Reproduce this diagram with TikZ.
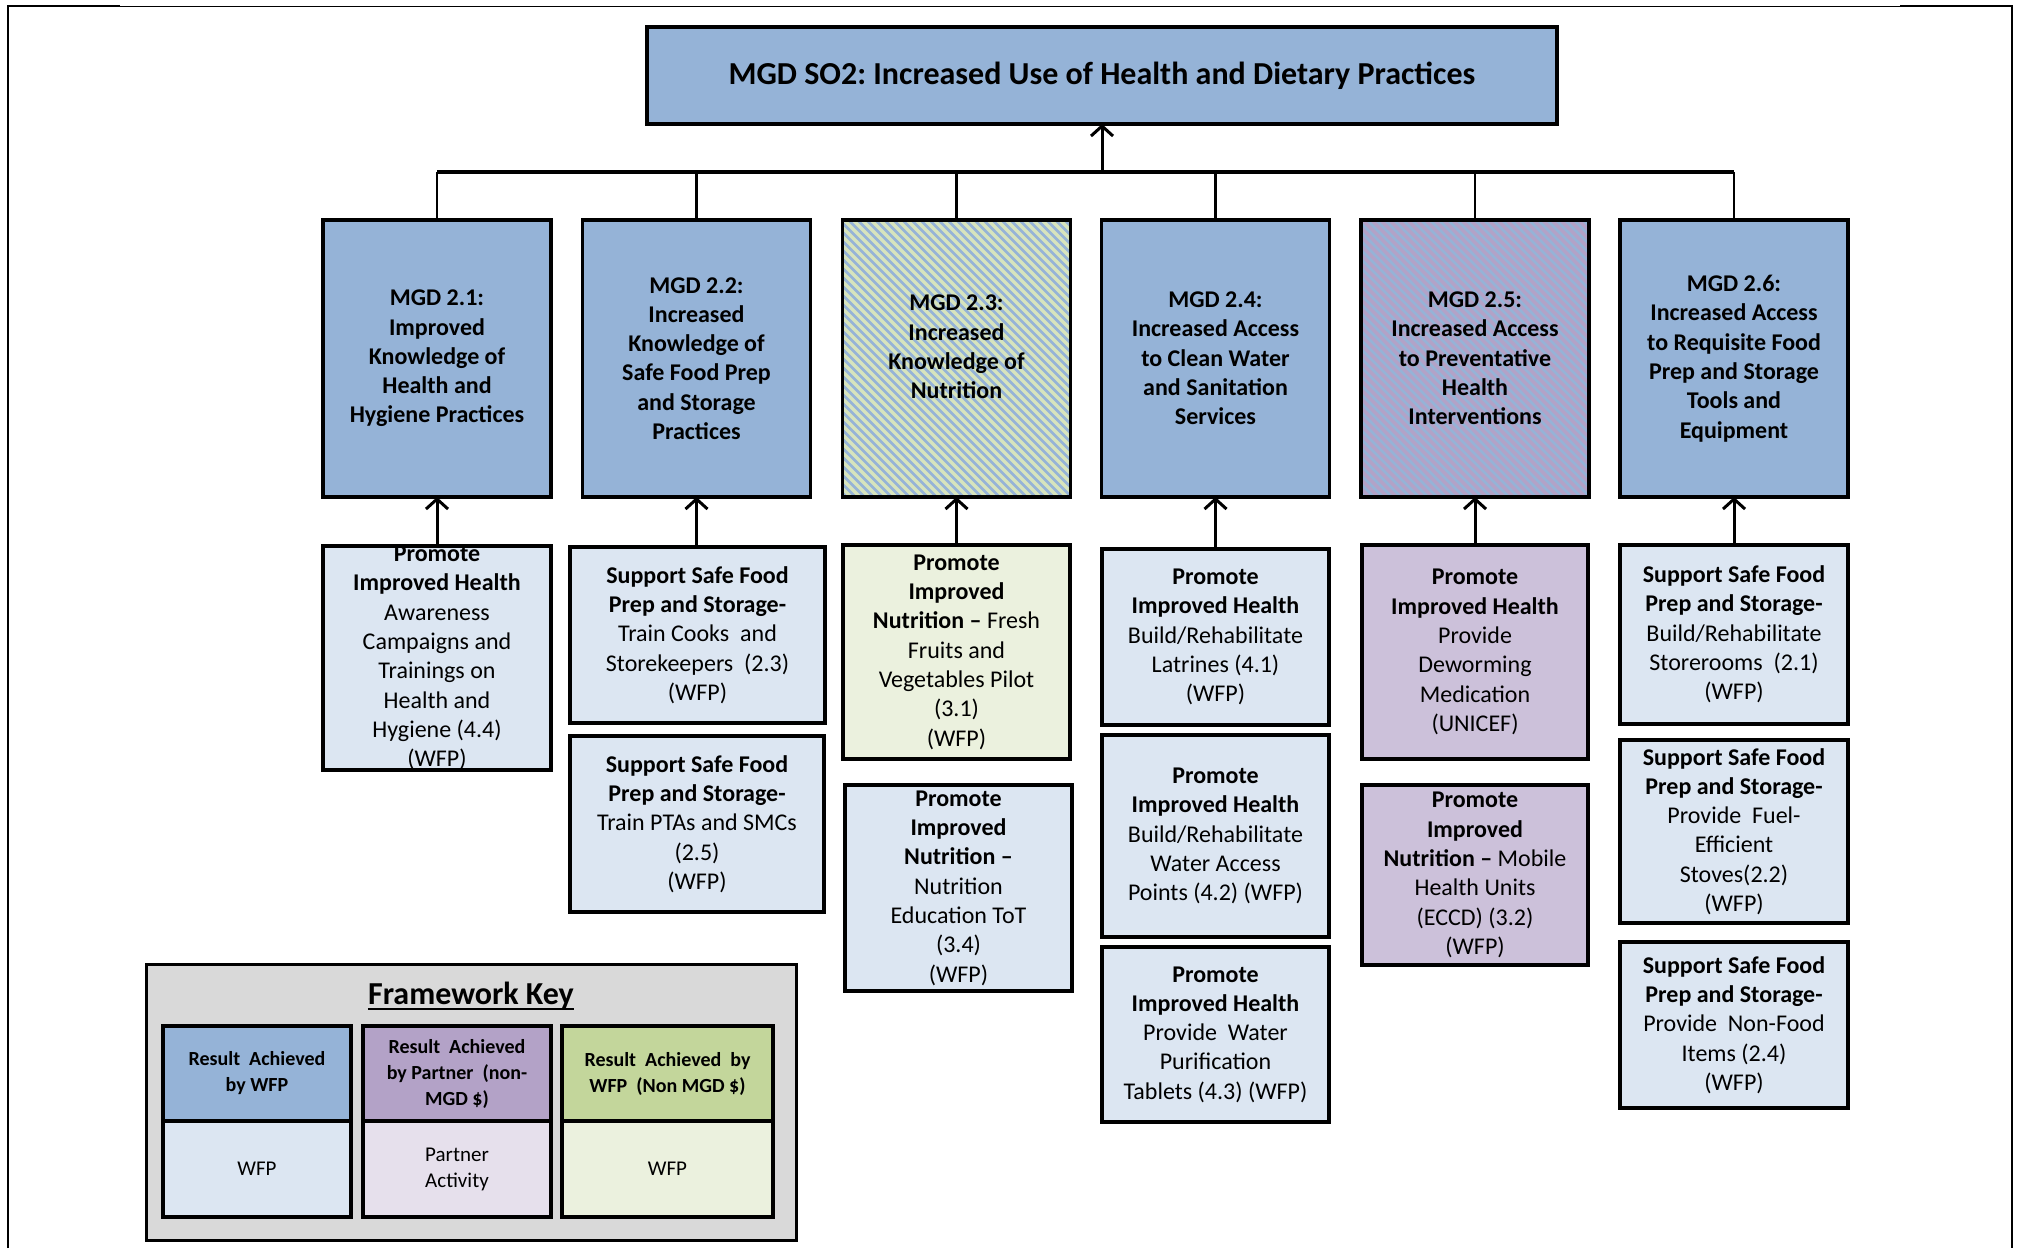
\documentclass[tikz,border=0pt]{standalone}
\usepackage{fontspec}
\setmainfont{Carlito}
\usetikzlibrary{arrows.meta}

\definecolor{resblue}{HTML}{95B3D7}
\definecolor{actblue}{HTML}{DCE6F2}
\definecolor{respurple}{HTML}{B3A2C7}
\definecolor{actpurple}{HTML}{CCC1DA}
\definecolor{keypurple}{HTML}{E6E0EC}
\definecolor{resgreen}{HTML}{C3D69B}
\definecolor{actgreen}{HTML}{EBF1DE}
\definecolor{hatchgreen}{HTML}{D7E4BD}
\definecolor{keygray}{HTML}{D9D9D9}

\tikzset{
  box/.style={draw=black, line width=3.5pt, rectangle, inner sep=0pt, outer sep=0pt},
  sz/.style 2 args={minimum width=#1pt, minimum height=#2pt},
  txt/.style={align=center, inner sep=0pt, font=\fontsize{24}{29.3}\selectfont},
  keyhead/.style={align=center, inner sep=0pt, font=\fontsize{20}{26}\selectfont\bfseries},
  keybody/.style={align=center, inner sep=0pt, font=\fontsize{21}{26}\selectfont},
  link/.style={line width=2.4pt},
  busline/.style={line width=3.2pt},
  uparrow/.style={line width=3pt, -{Straight Barb[length=10pt,width=22pt]}},
  stripe/.style={resblue, line width=2.6pt},
}

\begin{document}
\frenchspacing
\begin{tikzpicture}[x=1pt, y=-1pt]
\useasboundingbox (0,0) rectangle (2018,1248);
\fill[white] (0,0) rectangle (2018,1248);

% page frame
\draw[line width=2.2pt] (8,1248) -- (8,6) -- (120,6);
\draw[line width=1pt] (120,6) -- (1900,6);
\draw[line width=2.2pt] (1900,6) -- (2012,6) -- (2012,1248);

% strategic objective
\node[box, fill=resblue, sz={910}{97}] (so2) at (1102,75.5) {};
\node[inner sep=0pt, font=\fontsize{32}{38}\selectfont\bfseries] (so2-t) at (so2.center)
  {MGD SO2: Increased Use of Health and Dietary Practices};

% results
\node[box, fill=resblue, sz={228}{277}] (m1) at (437,358.5) {};
\node[box, fill=resblue, sz={228}{277}] (m2) at (696.5,358.5) {};
\node[box, fill=hatchgreen, sz={228}{277}] (m3) at (956.5,358.5) {};
\node[box, fill=resblue, sz={228}{277}] (m4) at (1215.5,358.5) {};
\node[box, fill=respurple, sz={228}{277}] (m5) at (1475,358.5) {};
\node[box, fill=resblue, sz={228}{277}] (m6) at (1734,358.5) {};

% diagonal stripes of the shared results, with their borders drawn again on top
\foreach \m in {m3,m5} {
  \begin{scope}
    \clip (\m.north west) rectangle (\m.south east);
    \foreach \k in {-300,-291,...,240}
      \draw[stripe] ([xshift=\k pt]\m.north west) -- ++(310,310);
  \end{scope}
  \draw[line width=3.5pt] (\m.north west) rectangle (\m.south east);
}

\node[txt, font=\fontsize{24}{29.3}\selectfont\bfseries] (m1-t) at (m1.center)
  {MGD 2.1:\\Improved\\Knowledge of\\Health and\\Hygiene Practices};
\node[txt, font=\fontsize{24}{29.3}\selectfont\bfseries] (m2-t) at (m2.center)
  {MGD 2.2:\\Increased\\Knowledge of\\Safe Food Prep\\and Storage\\Practices};
\node[txt, font=\fontsize{24}{29.3}\selectfont\bfseries] (m3-t) at (956.5,347)
  {MGD 2.3:\\Increased\\Knowledge of\\Nutrition};
\node[txt, font=\fontsize{24}{29.3}\selectfont\bfseries] (m4-t) at (m4.center)
  {MGD 2.4:\\Increased Access\\to Clean Water\\and Sanitation\\Services};
\node[txt, font=\fontsize{24}{29.3}\selectfont\bfseries] (m5-t) at (m5.center)
  {MGD 2.5:\\Increased Access\\to Preventative\\Health\\Interventions};
\node[txt, font=\fontsize{24}{29.3}\selectfont\bfseries] (m6-t) at (m6.center)
  {MGD 2.6:\\Increased Access\\to Requisite Food\\Prep and Storage\\Tools and\\Equipment};

% activities
\node[box, fill=actblue, sz={228}{224}] (l1) at (437,658) {};
\node[box, fill=actblue, sz={255}{176}] (l2a) at (697.5,635) {};
\node[box, fill=actblue, sz={254}{176}] (l2b) at (697,824) {};
\node[box, fill=actgreen, sz={227}{214}] (l3a) at (956.5,652) {};
\node[box, fill=actblue, sz={227}{206}] (l3b) at (958.5,888) {};
\node[box, fill=actblue, sz={227}{176}] (l4a) at (1215.5,637) {};
\node[box, fill=actblue, sz={227}{202}] (l4b) at (1215.5,836) {};
\node[box, fill=actblue, sz={227}{175}] (l4c) at (1215.5,1034.5) {};
\node[box, fill=actpurple, sz={226}{214}] (l5a) at (1475,652) {};
\node[box, fill=actpurple, sz={226}{180}] (l5b) at (1475,875) {};
\node[box, fill=actblue, sz={228}{179}] (l6a) at (1734,634.5) {};
\node[box, fill=actblue, sz={228}{183}] (l6b) at (1734,831.5) {};
\node[box, fill=actblue, sz={228}{166}] (l6c) at (1734,1025) {};

\node[txt] (l1-t) at (l1.center)
  {\textbf{Promote}\\\textbf{Improved Health}\\Awareness\\Campaigns and\\Trainings on\\Health and\\Hygiene (4.4)\\(WFP)};
\node[txt] (l2a-t) at (l2a.center)
  {\textbf{Support Safe Food}\\\textbf{Prep and Storage-}\\Train Cooks\ \ and\\Storekeepers\ \ (2.3)\\(WFP)};
\node[txt] (l2b-t) at (l2b.center)
  {\textbf{Support Safe Food}\\\textbf{Prep and Storage-}\\Train PTAs and SMCs\\(2.5)\\(WFP)};
\node[txt] (l3a-t) at (l3a.center)
  {\textbf{Promote}\\\textbf{Improved}\\\textbf{Nutrition –} Fresh\\Fruits and\\Vegetables Pilot\\(3.1)\\(WFP)};
\node[txt] (l3b-t) at (l3b.center)
  {\textbf{Promote}\\\textbf{Improved}\\\textbf{Nutrition –}\\Nutrition\\Education ToT\\(3.4)\\(WFP)};
\node[txt] (l4a-t) at (l4a.center)
  {\textbf{Promote}\\\textbf{Improved Health}\\Build/Rehabilitate\\Latrines (4.1)\\(WFP)};
\node[txt] (l4b-t) at (l4b.center)
  {\textbf{Promote}\\\textbf{Improved Health}\\Build/Rehabilitate\\Water Access\\Points (4.2) (WFP)};
\node[txt] (l4c-t) at (l4c.center)
  {\textbf{Promote}\\\textbf{Improved Health}\\Provide\ \ Water\\Purification\\Tablets (4.3) (WFP)};
\node[txt] (l5a-t) at (l5a.center)
  {\textbf{Promote}\\\textbf{Improved Health}\\Provide\\Deworming\\Medication\\(UNICEF)};
\node[txt] (l5b-t) at (l5b.center)
  {\textbf{Promote}\\\textbf{Improved}\\\textbf{Nutrition –} Mobile\\Health Units\\(ECCD) (3.2)\\(WFP)};
\node[txt] (l6a-t) at (l6a.center)
  {\textbf{Support Safe Food}\\\textbf{Prep and Storage-}\\Build/Rehabilitate\\Storerooms\ \ (2.1)\\(WFP)};
\node[txt] (l6b-t) at (l6b.center)
  {\textbf{Support Safe Food}\\\textbf{Prep and Storage-}\\Provide\ \ Fuel-\\Efficient\\Stoves(2.2)\\(WFP)};
\node[txt] (l6c-t) at (l6c.center)
  {\textbf{Support Safe Food}\\\textbf{Prep and Storage-}\\Provide\ \ Non-Food\\Items (2.4)\\(WFP)};

% connectors: results up to the objective
\coordinate (bus) at (1102,172);
\draw[busline] (m1.north |- bus) -- (m6.north |- bus);
\foreach \m in {m1,m2,m3,m4,m5,m6}
  \draw[link] (\m.north) -- (\m.north |- bus);
\draw[uparrow] (bus) -- (so2.south);

% connectors: activities up to results
\draw[uparrow] (m1.south |- l1.north) -- (m1.south);
\draw[uparrow] (m2.south |- l2a.north) -- (m2.south);
\draw[uparrow] (m3.south |- l3a.north) -- (m3.south);
\draw[uparrow] (m4.south |- l4a.north) -- (m4.south);
\draw[uparrow] (m5.south |- l5a.north) -- (m5.south);
\draw[uparrow] (m6.south |- l6a.north) -- (m6.south);

% framework key
\node[box, line width=3pt, fill=keygray, sz={650}{276}] (key) at (471,1102) {};
\node[inner sep=0pt, anchor=base, font=\fontsize{32}{38}\selectfont\bfseries] (key-t) at (471,1004) {Framework Key};
\draw[line width=1.8pt] ([yshift=-5pt]key-t.base west) -- ([yshift=-5pt]key-t.base east);

\node[box, fill=resblue, sz={188}{95}] (k1h) at (257,1073.5) {};
\node[box, fill=actblue, sz={188}{96}] (k1b) at (257,1169) {};
\node[box, fill=respurple, sz={188}{95}] (k2h) at (457,1073.5) {};
\node[box, fill=keypurple, sz={188}{96}] (k2b) at (457,1169) {};
\node[box, fill=resgreen, sz={211}{95}] (k3h) at (667.5,1073.5) {};
\node[box, fill=actgreen, sz={211}{96}] (k3b) at (667.5,1169) {};

\node[keyhead] (k1h-t) at (k1h.center) {Result\ \ Achieved\\by WFP};
\node[keyhead] (k2h-t) at (k2h.center) {Result\ \ Achieved\\by Partner\ \ (non-\\MGD \$)};
\node[keyhead] (k3h-t) at (k3h.center) {Result\ \ Achieved\ \ by\\WFP\ \ (Non MGD \$)};
\node[keybody] (k1b-t) at (k1b.center) {WFP};
\node[keybody] (k2b-t) at (k2b.center) {Partner\\Activity};
\node[keybody] (k3b-t) at (k3b.center) {WFP};
\end{tikzpicture}
\end{document}
